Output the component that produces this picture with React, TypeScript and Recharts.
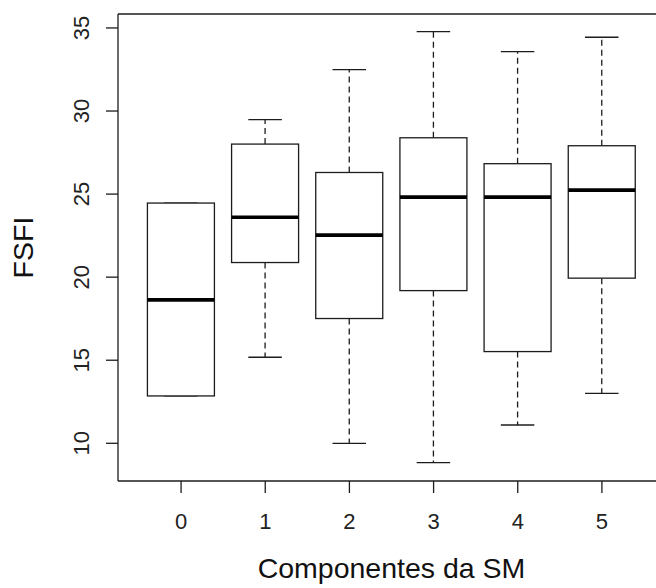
import React from "react";
import { ComposedChart, Bar, XAxis, YAxis, CartesianGrid } from "recharts";

const categories = ["0", "1", "2", "3", "4", "5"];
const mins = [12.85, 15.18, 10.0, 8.84, 11.1, 13.01];
const q1s = [12.85, 20.88, 17.51, 19.19, 15.52, 19.94];
const medians = [18.63, 23.61, 22.53, 24.82, 24.82, 25.24];
const q3s = [24.46, 28.01, 26.3, 28.39, 26.83, 27.91];
const maxs = [24.46, 29.48, 32.49, 34.78, 33.58, 34.44];
const yTicks = [10, 15, 20, 25, 30, 35];
const yDomain = [7.73, 35.84];
const xTitle = "Componentes da SM";
const yTitle = "FSFI";

const data = categories.map((c, i) => ({
  cat: c,
  min: mins[i],
  q1: q1s[i],
  median: medians[i],
  q3: q3s[i],
  max: maxs[i],
}));

const FONT = "'Liberation Sans', Arial, Helvetica, sans-serif";
const LINE = "#1c1c1c";

function BoxShape(props: any) {
  const { x, y, width, height, payload } = props;
  const top = Math.min(y, y + height);
  const bot = Math.max(y, y + height);
  const lo = payload.min;
  const hi = payload.max;
  const py = (v: number) => (hi === lo ? top : top + ((hi - v) / (hi - lo)) * (bot - top));
  const cx = x + width / 2;
  const half = width / 4;
  const yq1 = py(payload.q1);
  const yq3 = py(payload.q3);
  const ymed = py(payload.median);
  const ymin = py(payload.min);
  const ymax = py(payload.max);
  return (
    <g>
      {ymax < yq3 && (
        <line x1={cx} x2={cx} y1={yq3} y2={ymax} stroke={LINE} strokeWidth={1.3} strokeDasharray="6 4" />
      )}
      {ymin > yq1 && (
        <line x1={cx} x2={cx} y1={yq1} y2={ymin} stroke={LINE} strokeWidth={1.3} strokeDasharray="6 4" />
      )}
      <line x1={cx - half} x2={cx + half} y1={ymax} y2={ymax} stroke={LINE} strokeWidth={1.3} />
      <line x1={cx - half} x2={cx + half} y1={ymin} y2={ymin} stroke={LINE} strokeWidth={1.3} />
      <rect x={x} y={yq3} width={width} height={yq1 - yq3} fill="#fff" stroke={LINE} strokeWidth={1.3} />
      <line x1={x} x2={x + width} y1={ymed} y2={ymed} stroke="#000" strokeWidth={3.6} />
    </g>
  );
}

function YTick(props: any) {
  const { x, y, payload } = props;
  return (
    <text
      x={x}
      y={y}
      transform={`rotate(-90 ${x} ${y})`}
      textAnchor="middle"
      fontFamily={FONT}
      fontSize={22}
      fill="#222"
    >
      {payload.value}
    </text>
  );
}

function XTick(props: any) {
  const { x, y, payload } = props;
  return (
    <text x={x} y={y} textAnchor="middle" fontFamily={FONT} fontSize={22} fill="#222">
      {payload.value}
    </text>
  );
}

function XTitle(props: any) {
  const vb = props.viewBox;
  return (
    <text
      x={vb.x + vb.width / 2}
      y={vb.y + 97}
      textAnchor="middle"
      fontFamily={FONT}
      fontSize={28.5}
      fill="#111"
    >
      {xTitle}
    </text>
  );
}

function YTitle(props: any) {
  const vb = props.viewBox;
  const cx = vb.x + 33;
  const cy = vb.y + vb.height / 2;
  return (
    <text
      x={cx}
      y={cy}
      transform={`rotate(-90 ${cx} ${cy})`}
      textAnchor="middle"
      fontFamily={FONT}
      fontSize={28.5}
      fill="#111"
    >
      {yTitle}
    </text>
  );
}

export default function App() {
  return (
    <div
      style={{
        position: "absolute",
        left: 0,
        top: 0,
        width: 656,
        height: 588,
        overflow: "hidden",
        background: "#fff",
      }}
    >
      <ComposedChart
        width={665}
        height={588}
        data={data}
        margin={{ top: 14, right: 0, bottom: 0, left: 0 }}
        barCategoryGap="10%"
      >
        <CartesianGrid
          vertical={false}
          horizontalCoordinatesGenerator={(p: any) => [p.offset.top]}
          stroke={LINE}
          strokeWidth={1.3}
          strokeDasharray=""
        />
        <XAxis
          dataKey="cat"
          height={107}
          padding={{ left: 21, right: 21 }}
          tickSize={12}
          tickMargin={36}
          tick={<XTick />}
          tickLine={{ stroke: LINE, strokeWidth: 1.3 }}
          axisLine={{ stroke: LINE, strokeWidth: 1.3 }}
          label={<XTitle />}
          interval={0}
        />
        <YAxis
          width={118}
          type="number"
          domain={yDomain}
          ticks={yTicks}
          allowDataOverflow
          tickSize={12}
          tickMargin={17}
          tick={<YTick />}
          tickLine={{ stroke: LINE, strokeWidth: 1.3 }}
          axisLine={{ stroke: LINE, strokeWidth: 1.3 }}
          label={<YTitle />}
          interval={0}
        />
        <Bar
          dataKey={(d: any) => [d.min, d.max]}
          shape={<BoxShape />}
          isAnimationActive={false}
        />
      </ComposedChart>
    </div>
  );
}
